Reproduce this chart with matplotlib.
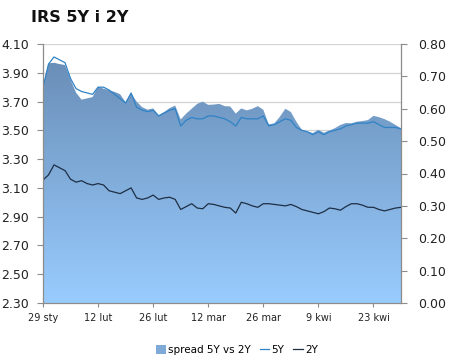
import numpy as np
import matplotlib
matplotlib.use("Agg")
import matplotlib.pyplot as plt
from matplotlib.colors import LinearSegmentedColormap
from matplotlib.patches import Patch
from matplotlib.lines import Line2D

# ---- data ----
tick_labels = ["29 sty", "12 lut", "26 lut", "12 mar", "26 mar", "9 kwi", "23 kwi"]
irs_5y = [3.80, 3.96, 4.01, 3.99, 3.97, 3.86, 3.79, 3.77, 3.76, 3.75,
          3.80, 3.80, 3.78, 3.75, 3.72, 3.69, 3.76, 3.66, 3.64, 3.63,
          3.64, 3.60, 3.62, 3.64, 3.65, 3.53, 3.57, 3.59, 3.58, 3.58,
          3.60, 3.60, 3.59, 3.58, 3.56, 3.53, 3.59, 3.58, 3.58, 3.58,
          3.60, 3.53, 3.54, 3.56, 3.58, 3.57, 3.52, 3.50, 3.49, 3.47,
          3.49, 3.47, 3.49, 3.50, 3.51, 3.53, 3.54, 3.55, 3.55, 3.55,
          3.56, 3.54, 3.52, 3.52, 3.52, 3.51]
irs_2y = [3.155, 3.19, 3.26, 3.24, 3.22, 3.16, 3.14, 3.15, 3.13, 3.12,
          3.13, 3.12, 3.08, 3.07, 3.06, 3.08, 3.10, 3.03, 3.02, 3.03,
          3.05, 3.02, 3.03, 3.035, 3.02, 2.95, 2.97, 2.99, 2.96, 2.955,
          2.99, 2.985, 2.975, 2.965, 2.96, 2.925, 3.00, 2.99, 2.975, 2.965,
          2.99, 2.99, 2.985, 2.98, 2.975, 2.985, 2.97, 2.95, 2.94, 2.93,
          2.92, 2.935, 2.96, 2.955, 2.945, 2.97, 2.99, 2.99, 2.98, 2.965,
          2.965, 2.95, 2.94, 2.95, 2.96, 2.965]
spread_5y_2y = [0.670, 0.740, 0.742, 0.738, 0.735, 0.690, 0.650, 0.628, 0.632, 0.636,
                0.668, 0.662, 0.657, 0.652, 0.645, 0.620, 0.648, 0.622, 0.605, 0.597,
                0.601, 0.580, 0.590, 0.602, 0.610, 0.567, 0.585, 0.600, 0.615, 0.622,
                0.612, 0.613, 0.615, 0.608, 0.607, 0.585, 0.601, 0.595, 0.600, 0.608,
                0.597, 0.552, 0.555, 0.575, 0.600, 0.590, 0.560, 0.535, 0.530, 0.525,
                0.535, 0.526, 0.533, 0.540, 0.550, 0.556, 0.555, 0.560, 0.562, 0.565,
                0.578, 0.574, 0.568, 0.560, 0.550, 0.540]
left_ticks = [2.30, 2.50, 2.70, 2.90, 3.10, 3.30, 3.50, 3.70, 3.90, 4.10]
right_ticks = [0.00, 0.10, 0.20, 0.30, 0.40, 0.50, 0.60, 0.70, 0.80]

x = np.arange(len(irs_5y))
spread = np.array(spread_5y_2y)
tick_pos = np.arange(0, len(x), 10)

# ---- figure ----
W, H = 450, 363
fig = plt.figure(figsize=(W / 100, H / 100), dpi=100)
rect = [43 / W, 1 - 303 / H, (401 - 43) / W, (303 - 44) / H]

grey = "#8c8c8c"
fs = 9

# grid layer (left scale)
ax_g = fig.add_axes(rect, zorder=0)
ax_g.set_xlim(x[0], x[-1])
ax_g.set_ylim(2.30, 4.10)
ax_g.set_yticks(left_ticks)
ax_g.grid(axis="y", color="#d4d4d4", linewidth=0.9)
ax_g.tick_params(left=False, bottom=False, labelleft=False, labelbottom=False)
for s in ax_g.spines.values():
    s.set_visible(False)

# area layer (right scale)
ax_r = fig.add_axes(rect, zorder=1, sharex=ax_g)
ax_r.patch.set_visible(False)
ax_r.set_ylim(0.0, 0.80)
poly = ax_r.fill_between(x, 0, spread, color="none", linewidth=0)
cmap = LinearSegmentedColormap.from_list("g", ["#99ccff", "#6a8fb8"])
grad = np.linspace(0, 1, 256).reshape(-1, 1)
im = ax_r.imshow(grad, cmap=cmap, origin="lower", aspect="auto",
                 extent=[x[0], x[-1], 0, spread.max()], zorder=1)
im.set_clip_path(poly.get_paths()[0], transform=ax_r.transData)
ax_r.set_xlim(x[0], x[-1])
ax_r.set_ylim(0.0, 0.80)
ax_r.yaxis.tick_right()
ax_r.set_yticks(right_ticks)
ax_r.set_yticklabels([f"{v:.2f}" for v in right_ticks], fontsize=fs, color="#222222")
ax_r.tick_params(axis="y", direction="out", length=4, width=0.8, color=grey, pad=8)
ax_r.tick_params(axis="x", bottom=False, labelbottom=False)
for k in ["top", "left", "bottom"]:
    ax_r.spines[k].set_visible(False)
ax_r.spines["right"].set_color(grey)
ax_r.spines["right"].set_linewidth(0.9)

# lines layer (left scale)
ax_l = fig.add_axes(rect, zorder=2, sharex=ax_g)
ax_l.patch.set_visible(False)
ax_l.plot(x, irs_5y, color="#2f83c6", linewidth=0.9)
ax_l.plot(x, irs_2y, color="#1e2f45", linewidth=0.9)
ax_l.set_xlim(x[0], x[-1])
ax_l.set_ylim(2.30, 4.10)
ax_l.set_yticks(left_ticks)
ax_l.set_yticklabels([f"{v:.2f}" for v in left_ticks], fontsize=fs, color="#222222")
ax_l.set_xticks(tick_pos)
ax_l.set_xticklabels(tick_labels, fontsize=7, color="#222222")
ax_l.tick_params(axis="y", direction="out", length=4, width=0.8, color=grey, pad=6)
ax_l.tick_params(axis="x", direction="out", length=3, width=0.8, color=grey, pad=4)
ax_l.spines["top"].set_visible(False)
ax_l.spines["right"].set_visible(False)
ax_l.spines["left"].set_color(grey)
ax_l.spines["bottom"].set_color(grey)
ax_l.spines["left"].set_linewidth(0.9)
ax_l.spines["bottom"].set_linewidth(0.9)

# title
fig.text(31 / W, 1 - 17 / H, "IRS 5Y i 2Y", fontsize=11.5, fontweight="bold",
         color="#111111", va="center", ha="left")

# legend
handles = [Patch(facecolor="#7fa9d6", edgecolor="none"),
           Line2D([], [], color="#2f83c6", linewidth=0.9),
           Line2D([], [], color="#1e2f45", linewidth=0.9)]
fig.legend(handles, ["spread 5Y vs 2Y", "5Y", "2Y"], loc="center",
           bbox_to_anchor=(237 / W, 1 - 350 / H), ncol=3, frameon=False,
           fontsize=7.5, handlelength=0.9, handleheight=0.9, handletextpad=0.2,
           columnspacing=0.9, borderaxespad=0)

fig.savefig("out.png", dpi=100)
